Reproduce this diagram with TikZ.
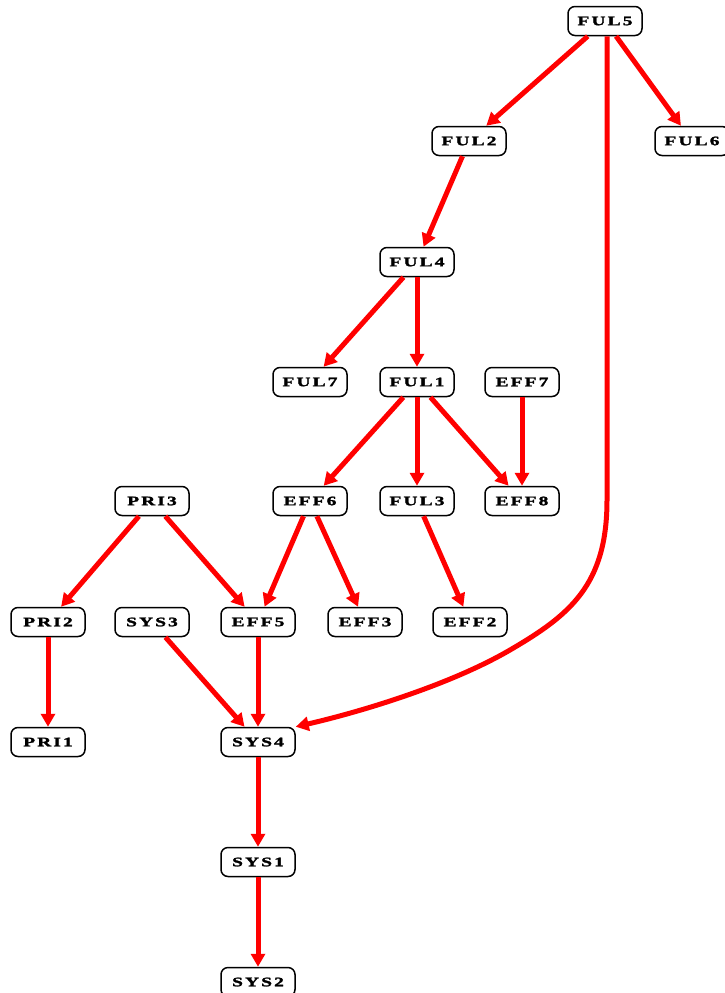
\documentclass[tikz,border=0pt]{standalone}
\usepackage{fontspec}
\usetikzlibrary{arrows.meta}
\newfontfamily\boxfont[FakeStretch=1.5,LetterSpace=16,FakeBold=2]{Liberation Serif}

\tikzset{
  task/.style={draw, line width=1.5pt, rounded corners=7pt, minimum width=74pt,
    minimum height=29pt, inner sep=0pt, font=\boxfont\bfseries\fontsize{13}{13}\selectfont},
  link/.style={red, line width=5pt, -{Triangle[length=13pt,width=14pt]}}
}

\begin{document}
\begin{tikzpicture}[x=1pt,y=-1pt]
        \useasboundingbox (0,0) rectangle (724,993);
        \node [task] (ful5) at (605,21) {FUL5};
        \node [task] (ful2) at (469,141) {FUL2};
        \node [task] (ful6) at (692,141) {FUL6};
        \node [task] (ful4) at (417,262) {FUL4};
        \node [task] (ful7) at (310,382) {FUL7};
        \node [task] (ful1) at (417,382) {FUL1};
        \node [task] (eff7) at (522,382) {EFF7};
        \node [task] (pri3) at (152,501) {PRI3};
        \node [task] (eff6) at (310,501) {EFF6};
        \node [task] (ful3) at (417,501) {FUL3};
        \node [task] (eff8) at (522,501) {EFF8};
        \node [task] (pri2) at (48,622) {PRI2};
        \node [task] (sys3) at (152,622) {SYS3};
        \node [task] (eff5) at (258,622) {EFF5};
        \node [task] (eff3) at (365,622) {EFF3};
        \node [task] (eff2) at (470,622) {EFF2};
        \node [task] (pri1) at (48,742) {PRI1};
        \node [task] (sys4) at (258,742) {SYS4};
        \node [task] (sys1) at (258,862) {SYS1};
        \node [task] (sys2) at (258,982) {SYS2};
        \draw [link] (ful5) -- (ful2);
        \draw [link] (ful5) -- (ful6);
        \draw [link] ([xshift=2pt]ful5.south) -- (607,500) .. controls (607,585) and (570,615) .. (510,650)
            .. controls (450,685) and (360,712) .. (sys4.north east);
        \draw [link] (ful2) -- (ful4);
        \draw [link] (ful4) -- (ful7);
        \draw [link] (ful4) -- (ful1);
        \draw [link] (ful1) -- (eff6);
        \draw [link] (ful1) -- (ful3);
        \draw [link] (ful1) -- (eff8);
        \draw [link] (eff7) -- (eff8);
        \draw [link] (pri3) -- (pri2);
        \draw [link] (pri3) -- (eff5);
        \draw [link] (eff6) -- (eff5);
        \draw [link] (eff6) -- (eff3);
        \draw [link] (ful3) -- (eff2);
        \draw [link] (pri2) -- (pri1);
        \draw [link] (sys3) -- (sys4);
        \draw [link] (eff5) -- (sys4);
        \draw [link] (sys4) -- (sys1);
        \draw [link] (sys1) -- (sys2);
    \end{tikzpicture}
\end{document}
